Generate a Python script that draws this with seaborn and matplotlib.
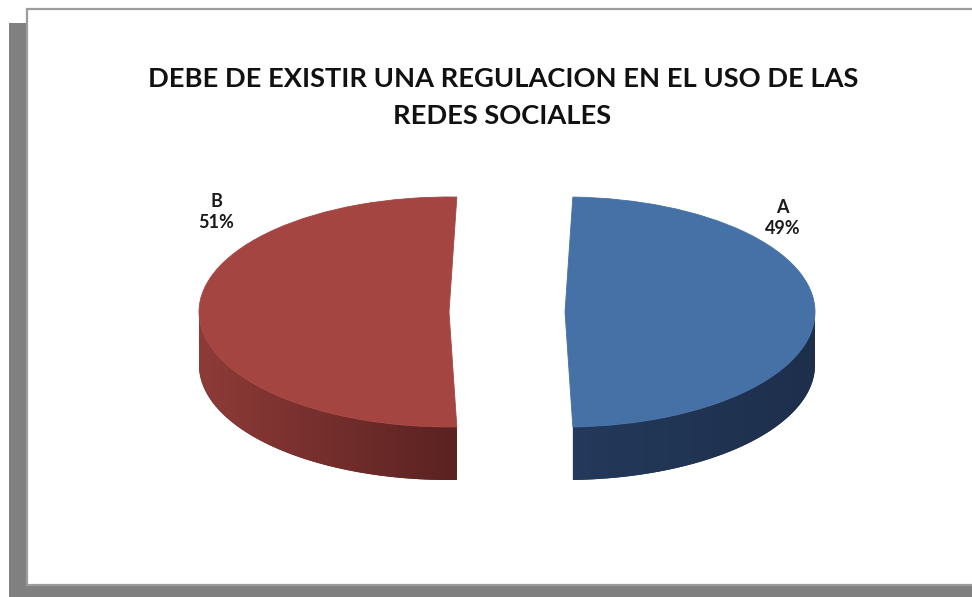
import numpy as np
import matplotlib
matplotlib.use("Agg")
import matplotlib.pyplot as plt
from matplotlib.patches import Polygon, Rectangle
from matplotlib.colors import LinearSegmentedColormap
import seaborn as sns

# ---- data -------------------------------------------------------------
labels = ["A", "B"]
values = [49, 51]
top_colors = ["#4571A6", "#A44542"]
side_light = ["#24395B", "#8E3B38"]
side_dark = ["#1D2F4B", "#5A2221"]
title_lines = ["DEBE DE EXISTIR UNA REGULACION EN EL USO DE LAS", "REDES SOCIALES"]

sns.set_theme(style="white")
plt.rcParams["font.family"] = ["Lato", "DejaVu Sans"]

W, H = 972, 597
fig = plt.figure(figsize=(W / 100, H / 100), dpi=100)
fig.patch.set_facecolor("white")

# ---- chart frame with drop shadow (pixel coordinates) -----------------
bg = fig.add_axes([0, 0, 1, 1])
bg.set_xlim(0, W)
bg.set_ylim(H, 0)
bg.axis("off")
bg.add_patch(Rectangle((9, 23), W, H, facecolor="#808080", edgecolor="none"))
bg.add_patch(Rectangle((27, 9), W, 576, facecolor="white",
                       edgecolor="#9C9C9C", lw=1.6))

# title, scaled so the first line spans the plot width
t1 = bg.text(503, 79, title_lines[0], ha="center", va="center",
             fontsize=20, fontweight="bold", color="#111111")
fig.canvas.draw()
fs = 20 * 710 / t1.get_window_extent().width
t1.set_fontsize(fs)
bg.text(502, 116, title_lines[1], ha="center", va="center",
        fontsize=fs, fontweight="bold", color="#111111")

# ---- pseudo-3D exploded pie -------------------------------------------
rx, ry = 250, 115          # pixels per data unit (x, y)
cx_px, cy_px = 507, 312    # common pie centre in pixels
xlim = (-1.8, 1.8)
ylim = (-2.0, 1.6)
left = cx_px + xlim[0] * rx
right = cx_px + xlim[1] * rx
top = cy_px - ylim[1] * ry
bottom = cy_px - ylim[0] * ry
ax = fig.add_axes([left / W, (H - bottom) / H, (right - left) / W, (bottom - top) / H])
ax.patch.set_alpha(0)

total = sum(values)
explode = [0.232, 0.232]
wedges, _ = ax.pie(values, colors=top_colors, startangle=180 * values[0] / total,
                   counterclock=False, explode=explode, radius=1.0,
                   wedgeprops=dict(linewidth=0.6, zorder=3))
for w, c in zip(wedges, top_colors):
    w.set_edgecolor(c)

depth = 53 / ry

for w, cl, cd in zip(wedges, side_light, side_dark):
    cx, cy = w.center
    r = w.r
    t = np.deg2rad(np.linspace(w.theta1, w.theta2, 800))
    front = t[np.sin(t) <= 1e-9]
    xs = cx + r * np.cos(front)
    ys = cy + r * np.sin(front)
    verts = np.vstack([np.column_stack([xs, ys]),
                       np.column_stack([xs[::-1], ys[::-1] - depth])])
    poly = Polygon(verts, closed=True, facecolor=cd, edgecolor="none", zorder=1)
    ax.add_patch(poly)
    cmap = LinearSegmentedColormap.from_list("side", [cl, cd])
    grad = np.linspace(0, 1, 256).reshape(1, -1)
    im = ax.imshow(grad, cmap=cmap, aspect="auto", zorder=2,
                   extent=[xs.min(), xs.max(), ys.min() - depth, ys.max()],
                   interpolation="bilinear")
    im.set_clip_path(poly)

# slice labels
label_offsets = [(0.87, 0.82), (-0.93, 0.87)]
for w, lab, v, (dx, dy) in zip(wedges, labels, values, label_offsets):
    cx, cy = w.center
    ax.text(cx + dx, cy + dy, f"{lab}\n{100 * v / total:.0f}%", ha="center",
            va="center", fontsize=13, fontweight="bold", color="#1A1A1A",
            linespacing=1.3, zorder=5)

ax.set_xlim(*xlim)
ax.set_ylim(*ylim)
ax.set_aspect("auto")
ax.axis("off")

fig.savefig("out.png", dpi=100, facecolor="white")
